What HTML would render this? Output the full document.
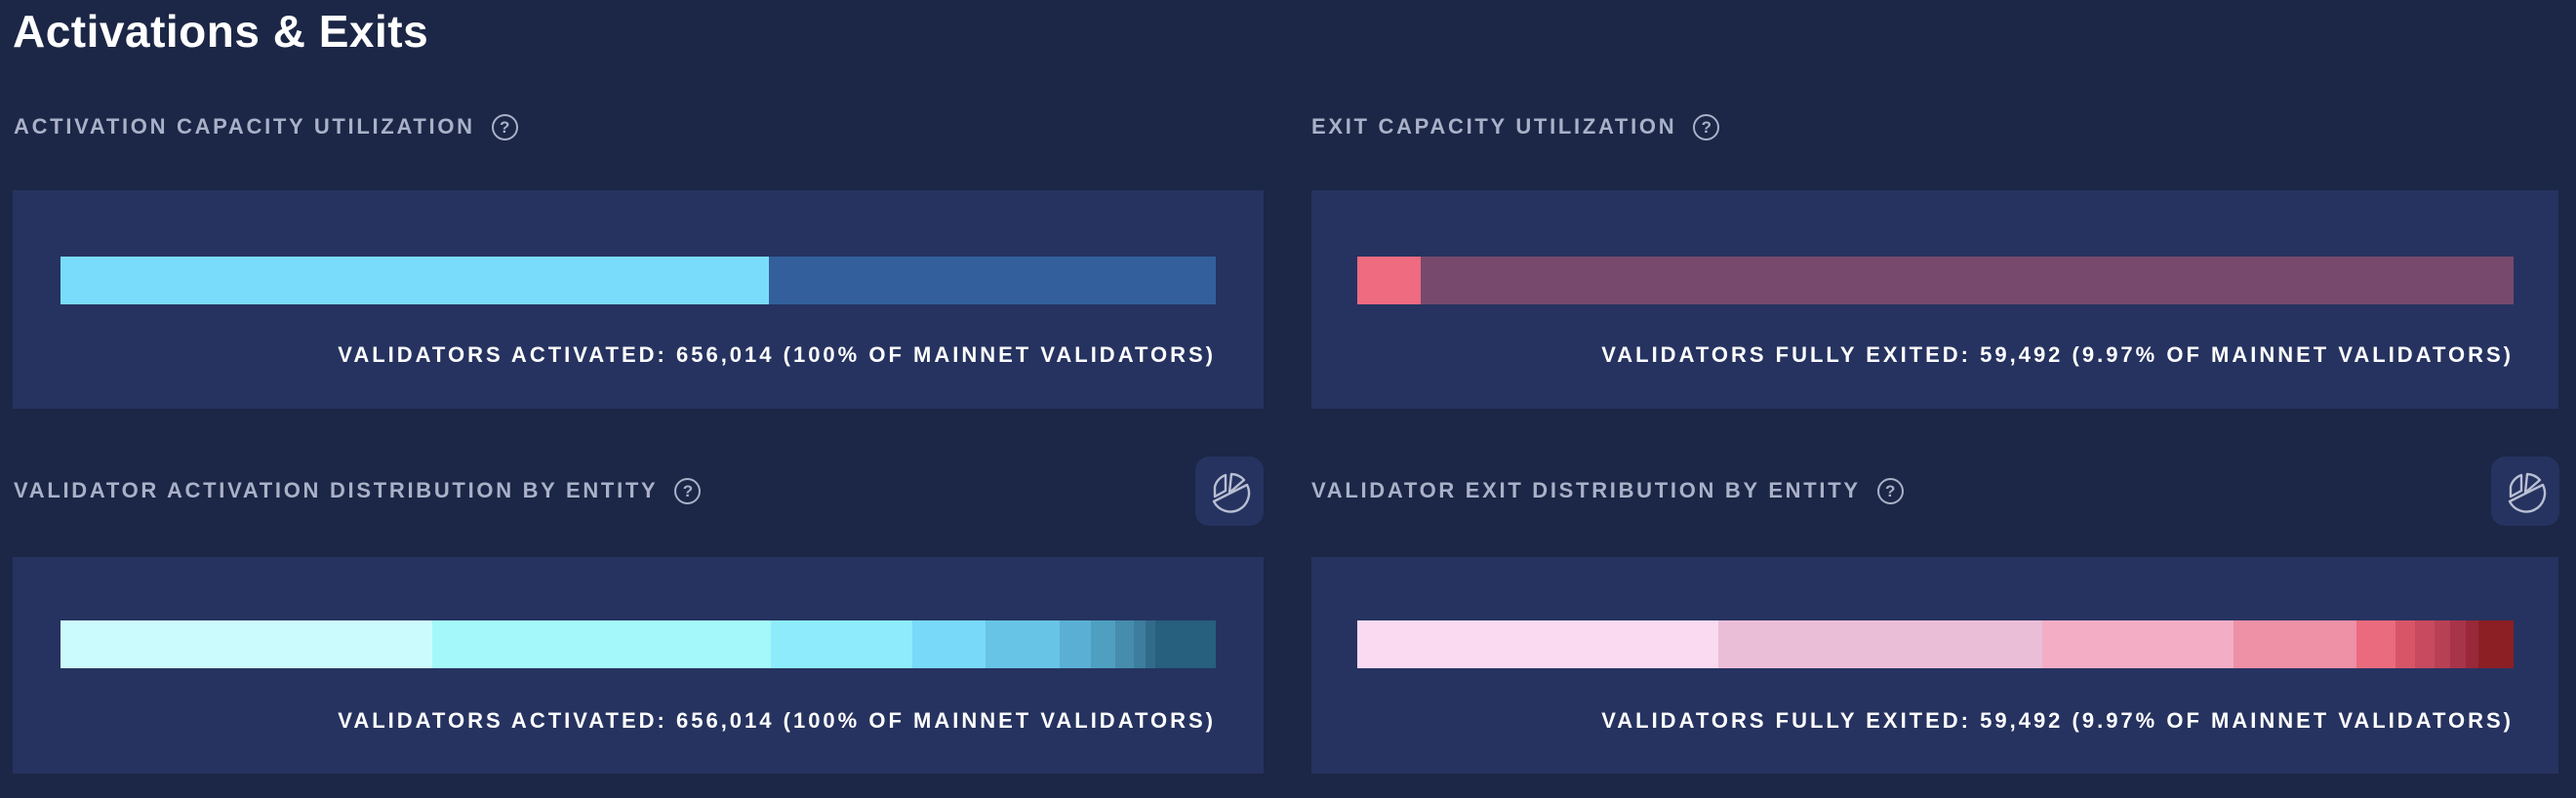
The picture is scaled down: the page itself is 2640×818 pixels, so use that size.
<!DOCTYPE html>
<html><head><meta charset="utf-8"><style>
*{margin:0;padding:0;box-sizing:border-box}
body{width:2640px;height:818px;background:#1c2646;position:relative;overflow:hidden;font-family:"Liberation Sans",sans-serif}
.abs{position:absolute}
.title{left:13px;top:5px;font-size:46px;font-weight:bold;color:#fff;letter-spacing:0.5px}
.lbl{font-size:22px;font-weight:bold;color:#a9b1c8;letter-spacing:2.7px;white-space:nowrap;display:flex;align-items:center;height:30px}
.q{display:inline-block;width:27px;height:27px;border:2px solid #a9b1c8;border-radius:50%;font-size:17px;text-align:center;line-height:23px;margin-left:17px;letter-spacing:0}
.panel{background:#263360}
.bar{display:flex;height:49px}
.bar div{height:100%}
.cap{font-size:22px;font-weight:bold;color:#fff;letter-spacing:3px;white-space:nowrap;text-align:right}
.btn{width:70px;height:71px;background:#263360;border-radius:14px}
</style></head><body>
<div class="abs title">Activations &amp; Exits</div>

<div class="abs lbl" style="left:14px;top:115px">ACTIVATION CAPACITY UTILIZATION<span class="q">?</span></div>
<div class="abs lbl" style="left:1344px;top:115px">EXIT CAPACITY UTILIZATION<span class="q">?</span></div>
<div class="abs lbl" style="left:14px;top:488px">VALIDATOR ACTIVATION DISTRIBUTION BY ENTITY<span class="q">?</span></div>
<div class="abs lbl" style="left:1344px;top:488px">VALIDATOR EXIT DISTRIBUTION BY ENTITY<span class="q">?</span></div>

<div class="abs btn" style="left:1225px;top:468px"><svg width="70" height="71" viewBox="0 0 70 71"><g fill="none" stroke="#b8bfd2" stroke-width="2.4" stroke-linejoin="round"><path d="M19 46 L53 29 A18 18 0 1 1 19 46 Z"/><path d="M35 37 L50 24 A18 18 0 0 0 37 18 Z"/><path d="M20 41 L31 35 L31 19 A17 17 0 0 0 20 31 Z"/></g></svg></div>
<div class="abs btn" style="left:2553px;top:468px"><svg width="70" height="71" viewBox="0 0 70 71"><g fill="none" stroke="#b8bfd2" stroke-width="2.4" stroke-linejoin="round"><path d="M19 46 L53 29 A18 18 0 1 1 19 46 Z"/><path d="M35 37 L50 24 A18 18 0 0 0 37 18 Z"/><path d="M20 41 L31 35 L31 19 A17 17 0 0 0 20 31 Z"/></g></svg></div>

<div class="abs panel" style="left:13px;top:195px;width:1282px;height:224px"></div>
<div class="abs bar" style="left:62px;top:263px;width:1184px"><div style="width:726px;background:#7adcfb"></div><div style="flex:1;background:#33609c"></div></div>
<div class="abs cap" style="right:1394px;top:351px">VALIDATORS ACTIVATED: 656,014 (100% OF MAINNET VALIDATORS)</div>

<div class="abs panel" style="left:1344px;top:195px;width:1278px;height:224px"></div>
<div class="abs bar" style="left:1391px;top:263px;width:1185px"><div style="width:65px;background:#ee6b80"></div><div style="flex:1;background:#774a6d"></div></div>
<div class="abs cap" style="right:64px;top:351px">VALIDATORS FULLY EXITED: 59,492 (9.97% OF MAINNET VALIDATORS)</div>

<div class="abs panel" style="left:13px;top:571px;width:1282px;height:222px"></div>
<div class="abs bar" style="left:62px;top:636px;width:1184px">
<div style="width:381px;background:#ccfbfe"></div><div style="width:347px;background:#a5f8f9"></div><div style="width:145px;background:#8eebfb"></div><div style="width:75px;background:#78d9f8"></div><div style="width:76px;background:#67c4e6"></div><div style="width:32px;background:#5ab0d4"></div><div style="width:25px;background:#4f9fc0"></div><div style="width:19px;background:#468cad"></div><div style="width:12px;background:#3d7d9d"></div><div style="width:10px;background:#316b8a"></div><div style="flex:1;background:#275f7e"></div></div>
<div class="abs cap" style="right:1394px;top:726px">VALIDATORS ACTIVATED: 656,014 (100% OF MAINNET VALIDATORS)</div>

<div class="abs panel" style="left:1344px;top:571px;width:1278px;height:222px"></div>
<div class="abs bar" style="left:1391px;top:636px;width:1185px">
<div style="width:370px;background:#fadaf1"></div><div style="width:332px;background:#ebbed8"></div><div style="width:196px;background:#f3aec5"></div><div style="width:126px;background:#ee90a6"></div><div style="width:40px;background:#ea6b7e"></div><div style="width:20px;background:#d85568"></div><div style="width:20px;background:#c84a5e"></div><div style="width:16px;background:#b84055"></div><div style="width:16px;background:#a8344a"></div><div style="width:13px;background:#98283a"></div><div style="flex:1;background:#8b1f23"></div></div>
<div class="abs cap" style="right:64px;top:726px">VALIDATORS FULLY EXITED: 59,492 (9.97% OF MAINNET VALIDATORS)</div>
</body></html>
